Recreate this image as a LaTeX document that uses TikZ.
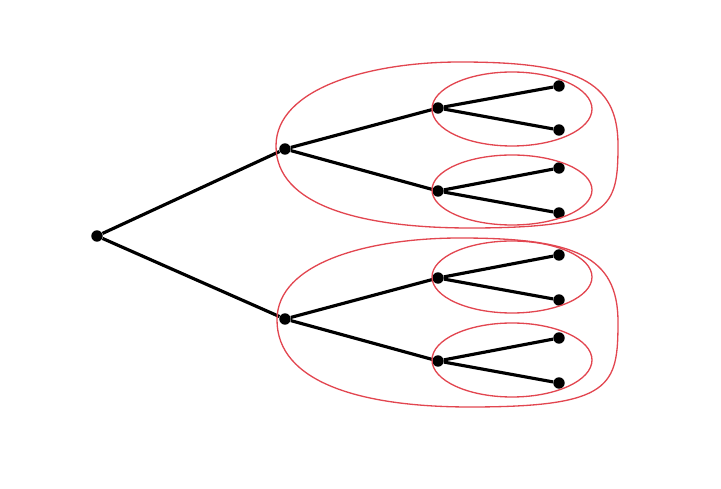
\documentclass[tikz,border=0pt]{standalone}
\usepackage{tikz}
\definecolor{loopred}{RGB}{226,70,80}

\begin{document}
\begin{tikzpicture}[x=0.02cm,y=-0.02cm,
    dot/.style={circle, fill=black, inner sep=0pt, minimum size=6.5pt},
    branch/.style={line width=1.8pt},
    loop/.style={draw=loopred, line width=0.75pt}]
    \useasboundingbox (0,0) rectangle (721,489);

    \node (root) [dot] at (97,236) {};
    \node (up) [dot] at (285,149) {};
    \node (down) [dot] at (285,319) {};
    \node (upA) [dot] at (438,108) {};
    \node (upB) [dot] at (438,191) {};
    \node (downA) [dot] at (438,278) {};
    \node (downB) [dot] at (438,361) {};
    \node (upA1) [dot] at (559,86) {};
    \node (upA2) [dot] at (559,130) {};
    \node (upB1) [dot] at (559,168) {};
    \node (upB2) [dot] at (559,213) {};
    \node (downA1) [dot] at (559,255) {};
    \node (downA2) [dot] at (559,300) {};
    \node (downB1) [dot] at (559,338) {};
    \node (downB2) [dot] at (559,383) {};

    \draw[branch] (root) -- (up);
    \draw[branch] (root) -- (down);
    \draw[branch] (up) -- (upA);
    \draw[branch] (up) -- (upB);
    \draw[branch] (down) -- (downA);
    \draw[branch] (down) -- (downB);
    \draw[branch] (upA) -- (upA1);
    \draw[branch] (upA) -- (upA2);
    \draw[branch] (upB) -- (upB1);
    \draw[branch] (upB) -- (upB2);
    \draw[branch] (downA) -- (downA1);
    \draw[branch] (downA) -- (downA2);
    \draw[branch] (downB) -- (downB1);
    \draw[branch] (downB) -- (downB2);

    % small loops
    \draw[loop] (512,109) ellipse [x radius=80, y radius=37];
    \draw[loop] (512,190) ellipse [x radius=80, y radius=35];
    \draw[loop] (512,277) ellipse [x radius=80, y radius=36];
    \draw[loop] (512,360) ellipse [x radius=80, y radius=37];

    % big loops
    \draw[loop] (276,146) .. controls (276,88) and (370,62) .. (460,62)
        .. controls (575,62) and (618,80) .. (618,145)
        .. controls (618,208) and (612,228) .. (470,228)
        .. controls (360,228) and (276,205) .. cycle;
    \draw[loop] (277,320) .. controls (277,262) and (370,238) .. (460,238)
        .. controls (575,238) and (618,256) .. (618,322)
        .. controls (618,386) and (612,407) .. (470,407)
        .. controls (360,407) and (277,382) .. cycle;
\end{tikzpicture}
\end{document}
